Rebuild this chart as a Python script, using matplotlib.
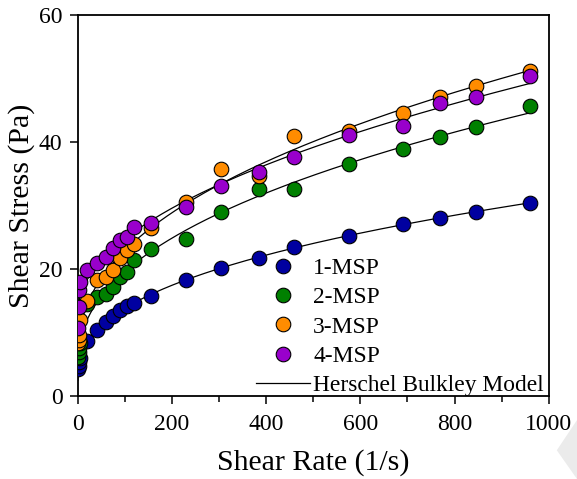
import numpy as np
import matplotlib
matplotlib.use("Agg")
import matplotlib.pyplot as plt
from matplotlib.patches import Polygon

plt.rcParams['font.family'] = ['Liberation Serif', 'DejaVu Serif']
plt.rcParams['mathtext.fontset'] = 'stix'

# shear rate (1/s)
shear_rate = [1, 2, 3, 5, 20, 40, 60, 75, 90, 105, 120, 155, 230, 305, 385, 460, 575, 690, 770, 845, 960]

# shear stress (Pa)
msp1 = [4.3, 4.8, 5.3, 6.0, 8.6, 10.4, 11.6, 12.6, 13.5, 14.2, 14.7, 15.8, 18.3, 20.2, 21.8, 23.4, 25.2, 27.1, 28.1, 29.0, 30.4]
msp2 = [6.2, 7.0, 7.6, 8.3, 14.5, 15.6, 16.1, 17.2, 18.8, 19.5, 21.5, 23.1, 24.7, 28.9, 32.6, 32.6, 36.6, 38.9, 40.7, 42.3, 45.7]
msp3 = [8.3, 8.9, 9.6, 12.0, 14.9, 18.3, 18.8, 19.8, 21.8, 23.0, 23.9, 26.4, 30.6, 35.7, 34.6, 40.9, 41.8, 44.5, 47.0, 48.8, 51.2]
msp4 = [10.8, 14.0, 16.7, 18.0, 19.8, 20.9, 21.9, 23.3, 24.5, 25.1, 26.6, 27.2, 29.8, 33.0, 35.3, 37.6, 41.1, 42.5, 46.1, 47.1, 50.4]

labels = ["1-MSP", "2-MSP", "3-MSP", "4-MSP"]
colors = ["#0000a0", "#008000", "#ff8c00", "#9900cc"]


#fit tau = tau0 + K*gamma^n by grid search on n
def fit_hb(x, y):
    x = np.asarray(x, float)
    y = np.asarray(y, float)
    best = None
    for n in np.linspace(0.05, 1.2, 500):
        A = np.column_stack([np.ones_like(x), x ** n])
        coef, res, _, _ = np.linalg.lstsq(A, y, rcond=None)
        sse = np.sum((A @ coef - y) ** 2)
        if best is None or sse < best[0]:
            best = (sse, coef[0], coef[1], n)
    return best[1:]


fig = plt.figure(figsize=(5.77, 4.79), dpi=100)

# faint page mark in the corner (behind everything)
fig.patches.append(Polygon([[1.0, 0.123], [0.965, 0.06], [1.0, 0.0]],
                           closed=True, transform=fig.transFigure,
                           facecolor="#ebebeb", edgecolor="none", zorder=-5))

ax = fig.add_axes([0.135, 0.173, 0.816, 0.796])
ax.patch.set_alpha(0)

x_fit = np.linspace(0, max(shear_rate), 400)
for i, series in enumerate([msp1, msp2, msp3, msp4]):
    tau0, K, n = fit_hb(shear_rate, series)
    ax.plot(x_fit, tau0 + K * x_fit ** n, color="black", lw=0.9, zorder=3,
            label="Herschel Bulkley Model" if i == 0 else None)

for series, lab, c in zip([msp1, msp2, msp3, msp4], labels, colors):
    ax.plot(shear_rate, series, linestyle="none", marker="o", ms=10.5,
            mfc=c, mec="black", mew=0.8, label=lab, zorder=4)

ax.set_xlim(0, 1000)
ax.set_ylim(0, 60)
ax.set_xticks([0, 200, 400, 600, 800, 1000])
ax.set_xticks([100, 300, 500, 700, 900], minor=True)
ax.set_yticks([0, 20, 40, 60])
ax.tick_params(axis="both", which="major", direction="out", length=6, width=1.1,
               labelsize=17, top=False, right=False)
ax.tick_params(axis="x", which="major", pad=7)
ax.tick_params(axis="y", which="major", pad=5)
ax.tick_params(axis="x", which="minor", direction="out", length=4, width=1.1)
for s in ax.spines.values():
    s.set_linewidth(1.3)

ax.set_xlabel("Shear Rate (1/s)", fontsize=21.5, labelpad=10)
ax.set_ylabel("Shear Stress (Pa)", fontsize=21.5, labelpad=3)

handles, labs = ax.get_legend_handles_labels()
order = [1, 2, 3, 4, 0]
ax.legend([handles[k] for k in order], [labs[k] for k in order],
          loc="lower right", bbox_to_anchor=(1.0, -0.013),
          frameon=False, fontsize=16.9, handlelength=2.3,
          handletextpad=0.15, labelspacing=0.34, borderaxespad=0.0,
          borderpad=0.2)

fig.savefig("out.png", dpi=100)
